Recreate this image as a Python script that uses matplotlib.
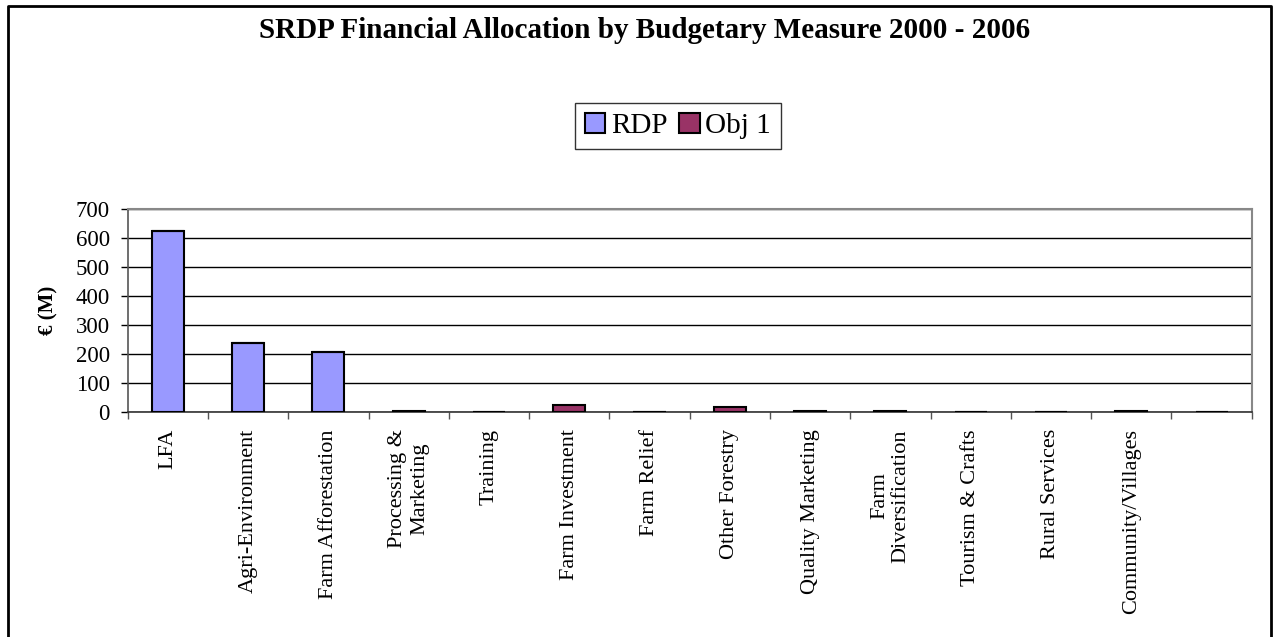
import matplotlib
matplotlib.use("Agg")
import matplotlib.pyplot as plt
from matplotlib.lines import Line2D
import numpy as np

measures = ["LFA", "Agri-Environment", "Farm Afforestation", "Processing &\nMarketing",
            "Training", "Farm Investment", "Farm Relief", "Other Forestry",
            "Quality Marketing", "Farm\nDiversification", "Tourism & Crafts",
            "Rural Services", "Community/Villages", ""]
rdp = [624, 237, 208, 0, 0, 0, 0, 0, 0, 0, 0, 0, 0, 0]
obj1 = [0, 0, 0, 4, 0, 22, 0, 15, 4, 4, 0, 0, 4, 0]

plt.rcParams['font.family'] = ['Liberation Serif', 'DejaVu Serif']

W, H = 1280, 637
fig = plt.figure(figsize=(W / 100, H / 100), dpi=100)
ax = fig.add_axes([127.7 / W, 1 - 411.7 / H, (1251.7 - 127.7) / W, (411.7 - 209.3) / H])

x = np.arange(len(measures))
ax.bar(x, rdp, width=0.4, color="#9999FF", edgecolor="black", linewidth=1.5,
       label="RDP", zorder=3)
ax.bar(x, obj1, width=0.4, bottom=rdp, color="#993366", edgecolor="black",
       linewidth=1.5, label="Obj 1", zorder=3)

ax.set_xlim(-0.5, len(measures) - 0.5)
ax.set_ylim(0, 700)
ax.set_yticks(range(0, 701, 100))
ax.tick_params(axis="y", labelsize=16.5, length=5, width=1, direction="out", pad=8)
ax.yaxis.grid(True, color="black", linewidth=1, zorder=0)

# ticks at category boundaries, labels at centres
ax.set_xticks(np.arange(len(measures) + 1) - 0.5)
ax.set_xticklabels([])
ax.tick_params(axis="x", length=5, width=1, direction="out", color="#555555")
for i, lab in enumerate(measures):
    ax.text(i, -60, lab, rotation=90, ha="center", va="top", fontsize=16,
            multialignment="center", transform=ax.transData)

for s in ["top", "right"]:
    ax.spines[s].set_color("#888888")
    ax.spines[s].set_linewidth(1.5)
ax.spines["left"].set_color("#555555")
ax.spines["bottom"].set_color("#333333")
ax.spines["left"].set_linewidth(1.2)
ax.spines["bottom"].set_linewidth(1.2)

ax.set_ylabel("€ (M)", fontsize=15, fontweight="bold", labelpad=12)

fig.text(645 / W, 1 - 30 / H, "SRDP Financial Allocation by Budgetary Measure 2000 - 2006",
         ha="center", va="center", fontsize=21, fontweight="bold")

leg = fig.legend(loc="center", bbox_to_anchor=(678 / W, 1 - 126 / H), ncol=2,
                 fontsize=21, frameon=True, fancybox=False, edgecolor="black",
                 handlelength=0.7, handleheight=0.7, handletextpad=0.2,
                 columnspacing=0.4, borderpad=0.35)
leg.get_frame().set_linewidth(1)

# outer chart border (left, top, right)
fig.add_artist(Line2D([7.5 / W, 7.5 / W, 1271 / W, 1271 / W],
                      [0, 1 - 5.5 / H, 1 - 5.5 / H, 0],
                      color="black", linewidth=2, transform=fig.transFigure))

fig.savefig("out.png", dpi=100, facecolor="white")
